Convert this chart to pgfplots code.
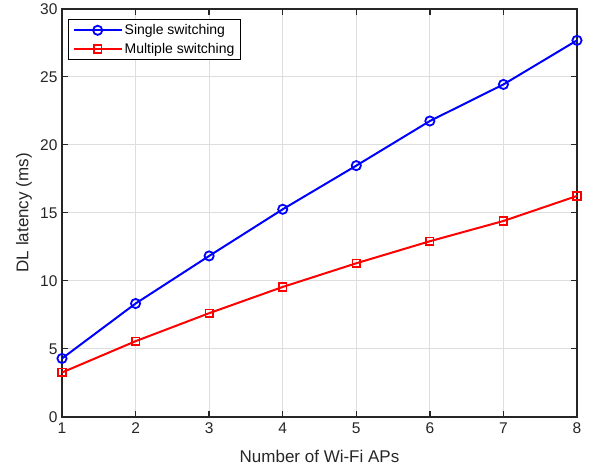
\documentclass[border=0pt]{standalone}
\usepackage{fontspec}
\setmainfont{Liberation Sans}
\usepackage{pgfplots}
\pgfplotsset{compat=1.18}
\definecolor{axgray}{rgb}{0.15,0.15,0.15}
\definecolor{gridgray}{rgb}{0.87,0.87,0.87}
\begin{document}
\begin{tikzpicture}
\begin{axis}[
  scale only axis, width=515pt, height=408pt,
  xmin=1, xmax=8, ymin=0, ymax=30,
  xtick={1,2,3,4,5,6,7,8}, ytick={0,5,10,15,20,25,30},
  grid=major, major grid style={gridgray, line width=1.1pt},
  axis line style={axgray, line width=1.5pt},
  tick style={axgray, line width=1.3pt},
  tick align=inside, major tick length=6pt,
  ticklabel style={font=\fontsize{15.5}{18}\selectfont, text=axgray},
  /pgf/number format/assume math mode=true,
  xticklabel style={yshift=-2pt},
  yticklabel style={xshift=-1pt},
  xlabel={Number of Wi-Fi APs}, ylabel={DL latency (ms)},
  label style={font=\fontsize{17}{20}\selectfont, text=axgray},
  xlabel style={at={([yshift=-40pt]axis description cs:0.5,0)}, anchor=center},
  ylabel style={at={([xshift=-38pt]axis description cs:0,0.5)}, anchor=center},
  legend style={at={(axis description cs:0.0117,0.9755)}, anchor=north west,
    draw=black, line width=1.3pt, fill=white, font=\fontsize{14}{16}\selectfont,
    inner xsep=4pt, inner ysep=3pt, row sep=3pt},
  legend cell align=left,
  legend image code/.code={\draw[mark repeat=2,mark phase=2] plot coordinates {(0pt,0pt) (24pt,0pt) (48pt,0pt)};},
]
\addplot[blue, line width=2pt, mark=o, mark size=4.6pt, mark options={line width=1.8pt}]
  coordinates {(1,4.29) (2,8.33) (3,11.83) (4,15.26) (5,18.47) (6,21.75) (7,24.44) (8,27.68)};
\addlegendentry{Single switching}
\addplot[red, line width=2pt, mark=square, mark size=3.8pt, mark options={line width=1.6pt}]
  coordinates {(1,3.26) (2,5.56) (3,7.62) (4,9.55) (5,11.29) (6,12.91) (7,14.40) (8,16.24)};
\addlegendentry{Multiple switching}
\end{axis}
\path (current axis.north east) ++(17pt,7pt);
\path (current axis.south west) ++(-62pt,-53pt);
\end{tikzpicture}
\end{document}
